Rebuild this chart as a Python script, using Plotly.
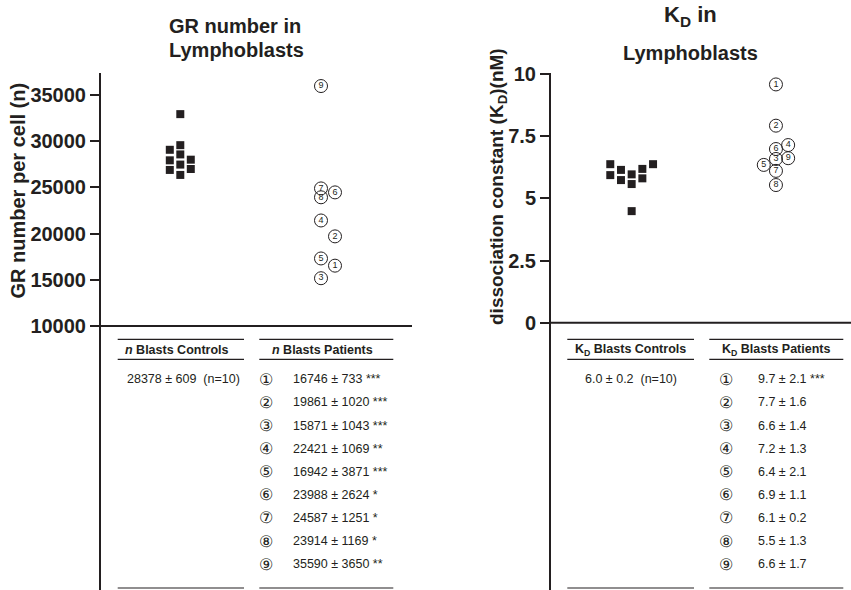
import plotly.graph_objects as go

W, H = 851, 590
INK = "#231f20"
FONT = "Arial, Liberation Sans, Helvetica, sans-serif"

# ---------------- data ----------------
# GR number per cell (n), lymphoblasts
gr_ctrl = [32930, 29570, 29070, 28570, 27930, 28000, 27470, 26890, 26990, 26350]
gr_ctrl_slot = [0, 0, -1, 0, -1, 1, 0, -1, 1, 0]
gr_pat_id = ["1", "2", "3", "4", "5", "6", "7", "8", "9"]
gr_pat = [16530, 19700, 15170, 21420, 17310, 24460, 24890, 23930, 35970]
gr_pat_slot = [1, 1, 0, 0, 0, 1, 0, 0, 0]
gr_ticks = [10000, 15000, 20000, 25000, 30000, 35000]

# KD (nM), lymphoblasts
kd_ctrl = [6.38, 5.94, 6.15, 5.74, 5.97, 5.58, 6.19, 5.81, 6.38, 4.49]
kd_ctrl_slot = [-2, -2, -1, -1, 0, 0, 1, 1, 2, 0]
kd_pat_id = ["1", "2", "3", "4", "5", "6", "7", "8", "9"]
kd_pat = [9.59, 7.93, 6.59, 7.15, 6.35, 6.99, 6.11, 5.54, 6.62]
kd_pat_slot = [0, 0, 0, 1, -1, 0, 0, 0, 1]
kd_ticks = [0, 2.5, 5, 7.5, 10]
kd_ticktext = ["0", "2.5", "5", "7.5", "10"]

# table values
gr_ctrl_summary = "28378 ± 609\u00a0\u00a0(n=10)"
gr_tab_mean = ["16746", "19861", "15871", "22421", "16942", "23988", "24587", "23914", "35590"]
gr_tab_sem = ["733", "1020", "1043", "1069", "3871", "2624", "1251", "1169", "3650"]
gr_tab_sig = ["***", "***", "***", "**", "***", "*", "*", "*", "**"]
kd_ctrl_summary = "6.0 ± 0.2\u00a0\u00a0(n=10)"
kd_tab_mean = ["9.7", "7.7", "6.6", "7.2", "6.4", "6.9", "6.1", "5.5", "6.6"]
kd_tab_sem = ["2.1", "1.6", "1.4", "1.3", "2.1", "1.1", "0.2", "1.3", "1.7"]
kd_tab_sig = ["***", "", "", "", "", "", "", "", ""]

# ---------------- helpers ----------------
def px(x):
    return x / W

def py(y):
    return 1 - y / H

fig = go.Figure()

# left panel
J_GR_C, J_GR_P = 0.0746, 0.0995
fig.add_trace(go.Scatter(
    x=[0 + s * J_GR_C for s in gr_ctrl_slot], y=gr_ctrl, mode="markers",
    marker=dict(symbol="square", size=8, color=INK, line=dict(width=0)),
    xaxis="x", yaxis="y", showlegend=False, hoverinfo="y"))
fig.add_trace(go.Scatter(
    x=[1 + s * J_GR_P for s in gr_pat_slot], y=gr_pat, mode="markers+text",
    text=gr_pat_id, textposition="middle center",
    textfont=dict(size=9, color=INK, family=FONT),
    marker=dict(symbol="circle-open", size=13, color=INK, line=dict(width=1, color=INK)),
    xaxis="x", yaxis="y", showlegend=False, hoverinfo="y"))

# right panel
J_KD_C, J_KD_P = 0.0741, 0.0845
fig.add_trace(go.Scatter(
    x=[0 + s * J_KD_C for s in kd_ctrl_slot], y=kd_ctrl, mode="markers",
    marker=dict(symbol="square", size=8, color=INK, line=dict(width=0)),
    xaxis="x2", yaxis="y2", showlegend=False, hoverinfo="y"))
fig.add_trace(go.Scatter(
    x=[1 + s * J_KD_P for s in kd_pat_slot], y=kd_pat, mode="markers+text",
    text=kd_pat_id, textposition="middle center",
    textfont=dict(size=9, color=INK, family=FONT),
    marker=dict(symbol="circle-open", size=13, color=INK, line=dict(width=1, color=INK)),
    xaxis="x2", yaxis="y2", showlegend=False, hoverinfo="y"))

yaxis_common = dict(
    showgrid=False, zeroline=False, showline=True, linewidth=2, linecolor=INK,
    ticks="outside", ticklen=9, tickwidth=1.5, tickcolor=INK, automargin=False,
    tickfont=dict(size=20, color=INK, family=FONT, weight="bold"),
    domain=[0, py(73)],
)
xaxis_common = dict(showgrid=False, zeroline=False, showline=False,
                    showticklabels=False, ticks="", automargin=False)

fig.update_layout(
    width=W, height=H, autosize=False,
    margin=dict(l=0, r=0, t=0, b=0, pad=0, autoexpand=False),
    paper_bgcolor="white", plot_bgcolor="white",
    font=dict(family=FONT, color=INK),
    xaxis=dict(xaxis_common, domain=[px(101), px(412)], range=[-0.5636, 1.6468]),
    yaxis=dict(yaxis_common, range=[-18571, 37381], tickvals=gr_ticks,
               ticktext=[str(t) for t in gr_ticks]),
    xaxis2=dict(xaxis_common, domain=[px(551), 1.0], range=[-0.559, 1.520], anchor="y2"),
    yaxis2=dict(yaxis_common, range=[-10.76, 10.05], tickvals=kd_ticks,
                ticktext=kd_ticktext, anchor="x2"),
)

shapes = []
# baselines at the lowest tick
shapes.append(dict(type="line", xref="x domain", yref="y", x0=0, x1=1,
                   y0=gr_ticks[0], y1=gr_ticks[0], line=dict(color=INK, width=2)))
shapes.append(dict(type="line", xref="x2 domain", yref="y2", x0=0, x1=1,
                   y0=kd_ticks[0], y1=kd_ticks[0], line=dict(color=INK, width=2)))

# table rules
def hline(x0, x1, y):
    shapes.append(dict(type="line", xref="paper", yref="paper",
                       x0=px(x0), x1=px(x1), y0=py(y), y1=py(y),
                       line=dict(color=INK, width=1.2)))

for (a, b) in [(117.7, 244), (259.3, 393.3), (567.3, 694), (709.3, 843.3)]:
    hline(a, b, 339.3)
    hline(a, b, 359.3)
    hline(a, b, 588)

annotations = []

def ann(text, x, y, size, bold=False, xanchor="center", yanchor="middle"):
    annotations.append(dict(
        text=text, x=px(x), y=py(y), xref="paper", yref="paper",
        xanchor=xanchor, yanchor=yanchor, showarrow=False,
        font=dict(size=size, color=INK, family=FONT, weight="bold" if bold else "normal")))

# titles
ann("GR number in", 235, 26, 20, bold=True)
ann("Lymphoblasts", 236, 50, 20, bold=True)
ann("K<sub>D</sub> in", 690, 16, 22, bold=True)
ann("Lymphoblasts", 690, 53, 20, bold=True)

# y-axis titles
annotations.append(dict(text="GR number per cell (n)", x=px(17.5), y=py(191),
                        xref="paper", yref="paper", textangle=-90, showarrow=False,
                        xanchor="center", yanchor="middle",
                        font=dict(size=20, color=INK, family=FONT, weight="bold")))
annotations.append(dict(text="dissociation constant (K<sub>D</sub>)(nM)", x=px(498), y=py(186),
                        xref="paper", yref="paper", textangle=-90, showarrow=False,
                        xanchor="center", yanchor="middle",
                        font=dict(size=19, color=INK, family=FONT, weight="bold")))

# table headers
ann("<i>n</i> Blasts Controls", 177, 349.5, 12.5, bold=True)
ann("<i>n</i> Blasts Patients", 322, 349.5, 12.5, bold=True)
ann("K<sub>D</sub> Blasts Controls", 630, 349.5, 12.5, bold=True)
ann("K<sub>D</sub> Blasts Patients", 776, 349.5, 12.5, bold=True)

ROW0, ROWH = 379.3, 23.1
ann(gr_ctrl_summary, 125, ROW0, 12.5, xanchor="left")
ann(kd_ctrl_summary, 583.3, ROW0, 12.5, xanchor="left")
for i in range(9):
    y = ROW0 + i * ROWH
    circ = chr(0x2460 + i)
    ann(circ, 266, y, 16)
    ann(f"{gr_tab_mean[i]} ± {gr_tab_sem[i]} {gr_tab_sig[i]}".rstrip(), 291, y, 12.5, xanchor="left")
    ann(circ, 726, y, 16)
    ann(f"{kd_tab_mean[i]} ± {kd_tab_sem[i]} {kd_tab_sig[i]}".rstrip(), 755.7, y, 12.5, xanchor="left")

fig.update_layout(shapes=shapes, annotations=annotations)
fig.write_html("out.html")
